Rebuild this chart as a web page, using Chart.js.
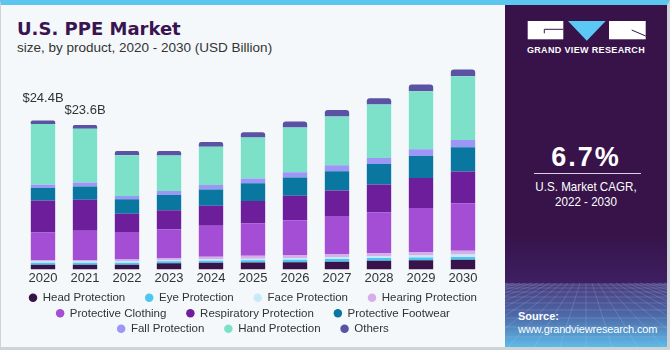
<!DOCTYPE html>
<html>
<head>
<meta charset="utf-8">
<script src="https://cdn.jsdelivr.net/npm/chart.js@4.4.0/dist/chart.umd.min.js"></script>
<style>
  body { margin: 0; width: 670px; height: 350px; overflow: hidden; background: #f4f8fb; font-family: "Liberation Sans", Arial, sans-serif; }
  #frame { position: absolute; left: 0; top: 0; width: 670px; height: 350px; box-sizing: border-box;
           border-top: 5px solid #5cc6ef; border-left: 1px solid #cfd3d6; border-right: 3px solid #cfd3d6;
           border-bottom: 3px solid #cfd3d6; background: #f4f8fb; }
  #title { position: absolute; left: 17px; top: 20px; font: bold 18px/18px "DejaVu Sans", sans-serif; color: #3a1450; white-space: nowrap; }
  #subtitle { position: absolute; left: 17px; top: 41px; font: 13.5px/14px "Liberation Sans", Arial, sans-serif; color: #333; white-space: nowrap; }
  #chartBox { position: absolute; left: 0; top: 50px; width: 505px; height: 297px; }
  #panel { position: absolute; left: 505px; top: 5px; width: 162px; height: 342px; background: #37134a; overflow: hidden; }
  #panel div { position: absolute; color: #fff; white-space: nowrap; }
  .ctr { left: 0; width: 162px; text-align: center; }
  .narrow { transform: scaleX(0.86); transform-origin: 81px 0; }
</style>
</head>
<body>
<div id="frame"></div>
<div id="title">U.S. PPE Market</div>
<div id="subtitle">size, by product, 2020 - 2030 (USD Billion)</div>
<div id="chartBox"><canvas id="ppeChart"></canvas></div>

<div id="panel">
  <svg width="162" height="342" style="position:absolute;left:0;top:0">
    <defs>
      <linearGradient id="skyGrad" x1="0" y1="0" x2="0" y2="1">
        <stop offset="0" stop-color="#37134a"/>
        <stop offset="1" stop-color="#3e1f62"/>
      </linearGradient>
      <linearGradient id="floorGrad" x1="0" y1="0" x2="0" y2="1">
        <stop offset="0" stop-color="#4a3a7c"/>
        <stop offset="0.5" stop-color="#4d68a6"/>
        <stop offset="1" stop-color="#5dbbe8"/>
      </linearGradient>
    </defs>
    <rect x="0" y="230" width="162" height="48" fill="url(#skyGrad)"/>
    <rect x="0" y="278" width="162" height="64" fill="url(#floorGrad)"/>
    <g id="grid" stroke="rgba(190,215,255,0.28)" stroke-width="0.7" fill="none"></g>
    <rect x="22.7" y="16" width="35.6" height="18.3" fill="#fff"/>
    <path d="M39.3 24.3 H58.3 M39.3 24.3 V28.3" stroke="#37134a" stroke-width="1" fill="none"/>
    <polygon points="63,16 100.7,16 81.8,35.7" fill="#5cc8f5"/>
    <rect x="104" y="16" width="36.7" height="18.3" fill="#fff"/>
    <path d="M126.7 25 L140.7 31" stroke="#37134a" stroke-width="1" fill="none"/>
  </svg>
  <div class="ctr" style="top:41px;font:bold 9px/9px 'Liberation Sans',Arial,sans-serif;letter-spacing:0.35px;">GRAND VIEW RESEARCH</div>
  <div class="ctr" style="top:138.5px;font:bold 27px/27px 'Liberation Sans',Arial,sans-serif;letter-spacing:2px;">6.7%</div>
  <div style="left:29px;top:167.5px;width:107px;height:1.5px;background:#d9d0e0;"></div>
  <div class="ctr narrow" style="top:174.5px;font:13.5px/13.5px 'Liberation Sans',Arial,sans-serif;">U.S. Market CAGR,</div>
  <div class="ctr narrow" style="top:189.5px;font:13.5px/13.5px 'Liberation Sans',Arial,sans-serif;">2022 - 2030</div>
  <div style="left:13px;top:306px;font:bold 11px/11px 'Liberation Sans',Arial,sans-serif;">Source:</div>
  <div style="left:13px;top:319px;font:11px/11px 'Liberation Sans',Arial,sans-serif;letter-spacing:-0.15px;">www.grandviewresearch.com</div>
</div>

<script>
// perspective floor lines in the side panel
(function () {
  var g = document.getElementById('grid');
  var ns = 'http://www.w3.org/2000/svg';
  var rows = [2, 5, 9, 14, 20, 27, 35, 44, 54];
  rows.forEach(function (d) {
    var l = document.createElementNS(ns, 'line');
    l.setAttribute('x1', 0); l.setAttribute('x2', 162);
    l.setAttribute('y1', 278 + d); l.setAttribute('y2', 278 + d);
    g.appendChild(l);
  });
  for (var k = -14; k <= 14; k++) {
    var l = document.createElementNS(ns, 'line');
    l.setAttribute('x1', 81 + k * 6); l.setAttribute('y1', 278);
    l.setAttribute('x2', 81 + k * 26); l.setAttribute('y2', 342);
    g.appendChild(l);
  }
})();

var years = ['2020', '2021', '2022', '2023', '2024', '2025', '2026', '2027', '2028', '2029', '2030'];

var headProtection        = [0.77, 0.77, 0.77, 1.03, 1.09, 1.15, 1.17, 1.26, 1.42, 1.52, 1.59];
var eyeProtection         = [0.33, 0.33, 0.35, 0.33, 0.33, 0.38, 0.44, 0.44, 0.44, 0.44, 0.44];
var faceProtection        = [0.22, 0.22, 0.22, 0.20, 0.27, 0.22, 0.27, 0.33, 0.33, 0.33, 0.44];
var hearingProtection     = [0.25, 0.25, 0.30, 0.33, 0.38, 0.49, 0.49, 0.49, 0.49, 0.55, 0.60];
var protectiveClothing    = [4.47, 4.75, 4.47, 4.70, 5.08, 5.29, 5.68, 6.22, 6.66, 7.20, 7.75];
var respiratoryProtection = [5.24, 5.08, 3.00, 3.11, 3.27, 3.66, 3.98, 4.15, 4.53, 4.91, 5.19];
var protectiveFootwear    = [2.03, 2.18, 2.35, 2.46, 2.67, 2.89, 3.00, 3.17, 3.38, 3.60, 3.98];
var fallProtection        = [0.55, 0.65, 0.54, 0.65, 0.70, 0.77, 0.87, 0.98, 0.98, 1.09, 1.15];
var handProtection        = [9.90, 8.77, 6.66, 5.82, 6.28, 6.72, 7.32, 7.97, 8.73, 9.50, 10.43];
var others                = [0.60, 0.60, 0.70, 0.75, 0.77, 0.87, 0.98, 1.03, 1.03, 1.09, 1.09];

var totalLabels = ['$24.4B', '$23.6B'];

var series = [
  { label: 'Head Protection',        data: headProtection,        color: '#37134a' },
  { label: 'Eye Protection',         data: eyeProtection,         color: '#4ec6f2' },
  { label: 'Face Protection',        data: faceProtection,        color: '#c6eaf9' },
  { label: 'Hearing Protection',     data: hearingProtection,     color: '#d6aee8' },
  { label: 'Protective Clothing',    data: protectiveClothing,    color: '#a44ed6' },
  { label: 'Respiratory Protection', data: respiratoryProtection, color: '#6d1f9b' },
  { label: 'Protective Footwear',    data: protectiveFootwear,    color: '#0a77a0' },
  { label: 'Fall Protection',        data: fallProtection,        color: '#9c96f7' },
  { label: 'Hand Protection',        data: handProtection,        color: '#7de1ca' },
  { label: 'Others',                 data: others,                color: '#5a53a3' }
];

var datasets = series.map(function (s, i) {
  var last = i === series.length - 1;
  return {
    label: s.label,
    data: s.data,
    backgroundColor: s.color,
    borderWidth: 0,
    borderSkipped: false,
    borderRadius: last ? { topLeft: 3, topRight: 3, bottomLeft: 0, bottomRight: 0 } : 0,
    barPercentage: 0.58,
    categoryPercentage: 1.0
  };
});

// items that close a legend row get no extra spacing
var rowEnds = [3, 6, 9];

var totalsPlugin = {
  id: 'totals',
  afterDatasetsDraw: function (chart) {
    var ctx = chart.ctx;
    var x = chart.scales.x, y = chart.scales.y;
    var lift = [22, 15];
    ctx.save();
    ctx.font = '13px "Liberation Sans", Arial, sans-serif';
    ctx.fillStyle = '#333';
    ctx.textAlign = 'center';
    ctx.textBaseline = 'middle';
    totalLabels.forEach(function (t, i) {
      var sum = 0;
      series.forEach(function (s) { sum += s.data[i]; });
      ctx.fillText(t, x.getPixelForValue(i), y.getPixelForValue(sum) - lift[i]);
    });
    ctx.restore();
  }
};

new Chart(document.getElementById('ppeChart'), {
  type: 'bar',
  data: { labels: years, datasets: datasets },
  plugins: [totalsPlugin],
  options: {
    responsive: true,
    maintainAspectRatio: false,
    animation: false,
    layout: { padding: { left: 22, right: 21, top: 11.4, bottom: 2.4 } },
    scales: {
      x: {
        stacked: true,
        grid: { display: false, drawTicks: false },
        border: { display: false },
        ticks: { color: '#333', padding: 1.5, font: { size: 13, family: '"Liberation Sans", Arial, sans-serif' } }
      },
      y: {
        stacked: true,
        display: false,
        min: 0,
        max: 34
      }
    },
    plugins: {
      tooltip: { enabled: false },
      legend: {
        position: 'bottom',
        labels: {
          usePointStyle: true,
          pointStyle: 'circle',
          boxWidth: 8,
          boxHeight: 6,
          padding: 4,
          color: '#333',
          font: { size: 11.5, family: '"Liberation Sans", Arial, sans-serif' },
          generateLabels: function (chart) {
            var items = Chart.defaults.plugins.legend.labels.generateLabels(chart);
            items.forEach(function (it, i) {
              if (rowEnds.indexOf(i) < 0) it.text = it.text + '     ';
            });
            return items;
          }
        }
      }
    }
  }
});
</script>
</body>
</html>
